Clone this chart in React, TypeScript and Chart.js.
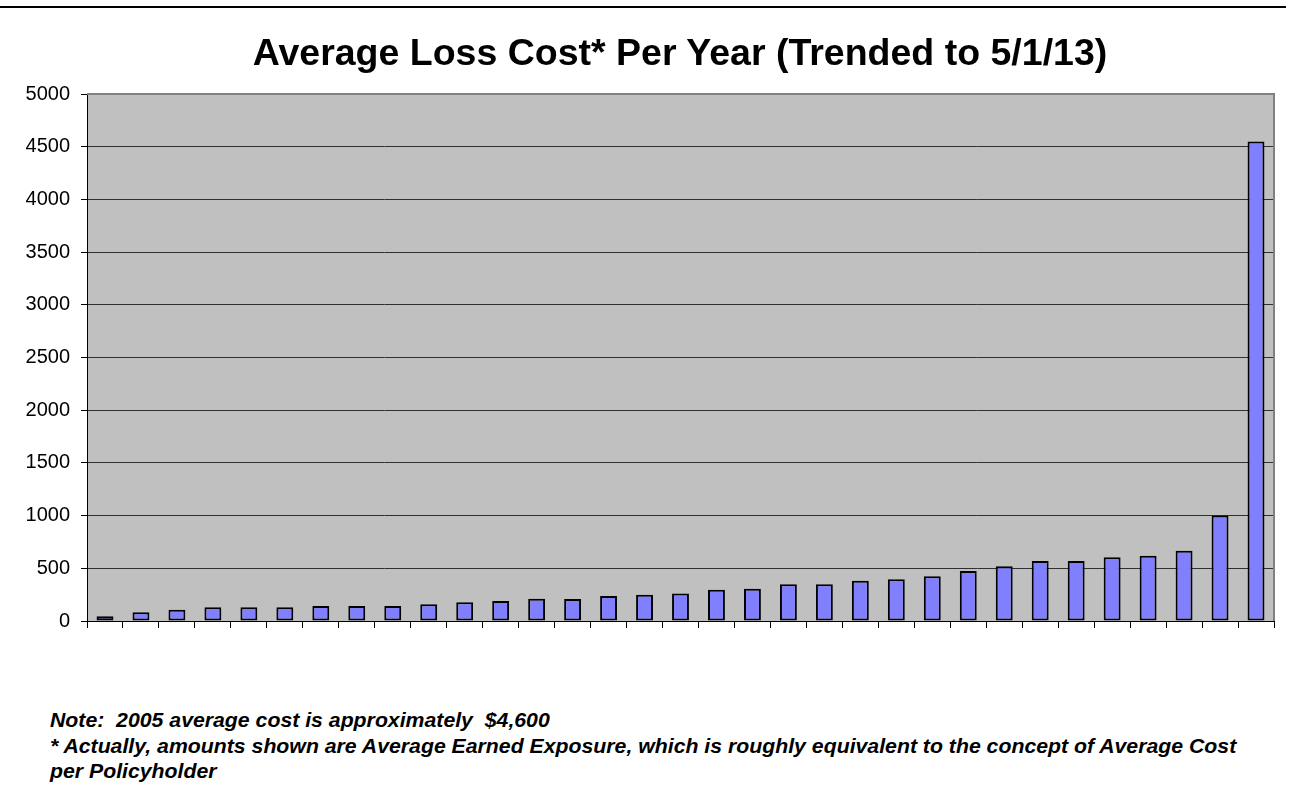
import React, { useEffect, useRef } from "react";
import { Chart, registerables } from "chart.js";

Chart.register(...registerables);

const TITLE = "Average Loss Cost* Per Year (Trended to 5/1/13)";
const NOTE_LINES = [
  "Note:  2005 average cost is approximately  $4,600",
  "* Actually, amounts shown are Average Earned Exposure, which is roughly equivalent to the concept of Average Cost",
  "per Policyholder",
];

const categories = [
  "1", "2", "3", "4", "5", "6", "7", "8", "9", "10", "11",
  "12", "13", "14", "15", "16", "17", "18", "19", "20", "21", "22",
  "23", "24", "25", "26", "27", "28", "29", "30", "31", "32", "33",
];

const averageLossCost = [
  45, 82, 107, 130, 130, 130, 142, 142, 142, 158, 177,
  190, 212, 209, 237, 250, 262, 297, 307, 348, 348, 383,
  395, 424, 474, 519, 569, 569, 604, 620, 667, 1000, 4550,
];

const yMin = 0;
const yMax = 5000;
const yStep = 500;

const FONT = "'Liberation Sans', Arial, Helvetica, sans-serif";

const plotAreaPlugin = {
  id: "plotArea",
  beforeDraw(chart: any) {
    const { ctx, chartArea } = chart;
    ctx.save();
    ctx.fillStyle = "#C0C0C0";
    ctx.fillRect(chartArea.left, chartArea.top, chartArea.right - chartArea.left, chartArea.bottom - chartArea.top);
    ctx.restore();
  },
  beforeDatasetsDraw(chart: any) {
    const { ctx, chartArea } = chart;
    ctx.save();
    ctx.strokeStyle = "#808080";
    ctx.lineWidth = 2;
    ctx.beginPath();
    ctx.moveTo(chartArea.left, chartArea.top);
    ctx.lineTo(chartArea.right, chartArea.top);
    ctx.lineTo(chartArea.right, chartArea.bottom);
    ctx.stroke();
    ctx.restore();
  },
};

export default function App() {
  const canvasRef = useRef<HTMLCanvasElement | null>(null);

  useEffect(() => {
    document.body.style.margin = "0";
    const canvas = canvasRef.current;
    if (!canvas) return;
    const chart = new Chart(canvas, {
      type: "bar",
      data: {
        labels: categories,
        datasets: [
          {
            label: "Average Loss Cost",
            data: averageLossCost,
            backgroundColor: "#8080FF",
            borderColor: "#000000",
            borderWidth: 2,
            borderSkipped: false,
            barPercentage: 0.47,
            categoryPercentage: 1,
          },
        ],
      },
      options: {
        animation: false,
        responsive: false,
        devicePixelRatio: 1,
        layout: { padding: { top: 94, left: 0, right: 15, bottom: 0 } },
        plugins: {
          legend: { display: false },
          title: { display: false },
          tooltip: { enabled: false },
        },
        scales: {
          x: {
            type: "category",
            offset: true,
            afterFit: (scale: any) => {
              scale.height = 29;
            },
            grid: {
              offset: true,
              drawOnChartArea: false,
              drawTicks: true,
              tickLength: 7,
              color: "#000000",
              lineWidth: 1,
            },
            border: { display: true, color: "#000000", width: 1 },
            ticks: { display: false },
          },
          y: {
            min: yMin,
            max: yMax,
            afterFit: (scale: any) => {
              scale.width = 87;
            },
            grid: {
              color: "#303030",
              lineWidth: 1,
              drawTicks: true,
              tickLength: 6,
              tickColor: "#000000",
            },
            border: { display: true, color: "#000000", width: 1 },
            ticks: {
              stepSize: yStep,
              padding: 11,
              color: "#000000",
              font: { family: FONT, size: 20 },
              callback: (value: any) => String(value),
            },
          },
        },
      },
      plugins: [plotAreaPlugin],
    });
    return () => chart.destroy();
  }, []);

  return (
    <div
      style={{
        position: "absolute",
        left: 0,
        top: 0,
        width: 1289,
        height: 811,
        background: "#ffffff",
        fontFamily: FONT,
        color: "#000",
      }}
    >
      <div style={{ position: "absolute", left: 0, top: 6, width: 1286, height: 2, background: "#000" }} />
      <canvas
        ref={canvasRef}
        width={1289}
        height={650}
        style={{ position: "absolute", left: 0, top: 0, width: 1289, height: 650 }}
      />
      <div
        style={{
          position: "absolute",
          left: 180,
          width: 1000,
          top: 32,
          textAlign: "center",
          fontSize: 37.5,
          lineHeight: "40px",
          fontWeight: "bold",
          whiteSpace: "pre",
        }}
      >
        {TITLE}
      </div>
      {NOTE_LINES.map((line, i) => (
        <div
          key={i}
          style={{
            position: "absolute",
            left: 50,
            top: 708 + i * 25.5,
            fontSize: 19.5,
            lineHeight: "24px",
            fontWeight: "bold",
            fontStyle: "italic",
            whiteSpace: "pre",
            transform: "scaleX(1.09)",
            transformOrigin: "left center",
          }}
        >
          {line}
        </div>
      ))}
    </div>
  );
}
